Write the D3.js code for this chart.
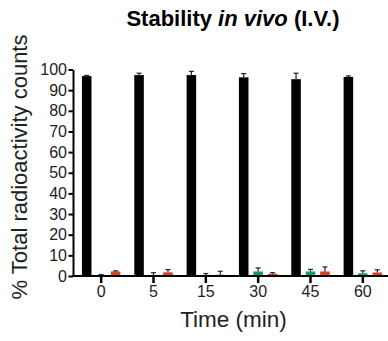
<!DOCTYPE html>
<html>
<head>
<meta charset="utf-8">
<script src="https://cdn.jsdelivr.net/npm/d3@7"></script>
<style>
  body { margin: 0; background: #fff; }
  text { font-family: "Liberation Sans", Arial, sans-serif; }
</style>
</head>
<body>
<svg width="388" height="341"></svg>
<script>
const times = ["0", "5", "15", "30", "45", "60"];
const series = ["intact", "green", "red"];
const colors = ["#000000", "#119b6c", "#d8431a"];
// means and SD
const intact = [96.8, 97.3, 97.3, 96.2, 95.3, 96.4];
const intactErr = [0.3, 0.9, 1.8, 1.8, 2.9, 0.5];
const green = [0.5, 0.5, 0.5, 2.2, 2.2, 1.3];
const greenErr = [0.2, 1.1, 0.7, 1.7, 1.0, 1.2];
const red = [2.2, 1.8, 0.6, 1.1, 2.2, 1.7];
const redErr = [0.3, 1.3, 1.7, 0.5, 2.2, 1.3];
const yTicks = d3.range(0, 101, 10);

const svg = d3.select("svg");
const values = [intact, green, red];
const errors = [intactErr, greenErr, redErr];

const x = d3.scaleBand().domain(times).range([75, 389]).padding(0);
const xInner = d3.scaleBand().domain(series).range([0, x.bandwidth()])
  .paddingInner(0.34).paddingOuter(0.48);
const y = d3.scaleLinear().domain([0, 100]).range([276, 69.5]);

const rows = [];
times.forEach((t, i) => series.forEach((s, j) => {
  rows.push({ t, s, v: values[j][i], e: errors[j][i], c: colors[j] });
}));

// bars
svg.append("g").selectAll("rect")
  .data(rows)
  .enter().append("rect")
    .attr("x", d => x(d.t) + xInner(d.s))
    .attr("width", xInner.bandwidth())
    .attr("y", d => y(d.v))
    .attr("height", d => y(0) - y(d.v))
    .attr("fill", d => d.c);

// error bars (upper only)
const eb = svg.append("g").attr("stroke", "#222").attr("stroke-width", 1.2);
rows.forEach(d => {
  const cx = x(d.t) + xInner(d.s) + xInner.bandwidth() / 2;
  eb.append("line").attr("x1", cx).attr("x2", cx)
    .attr("y1", y(d.v)).attr("y2", y(d.v + d.e));
  eb.append("line").attr("x1", cx - 2.5).attr("x2", cx + 2.5)
    .attr("y1", y(d.v + d.e)).attr("y2", y(d.v + d.e));
});

// y axis
const yAxis = svg.append("g")
  .attr("transform", "translate(73,0)")
  .call(d3.axisLeft(y).tickValues(yTicks).tickSize(4.5).tickPadding(1.5).tickSizeOuter(0));
yAxis.select(".domain").attr("stroke-width", 2);
yAxis.selectAll(".tick line").attr("stroke-width", 2);
yAxis.selectAll("text").attr("font-size", 16).attr("fill", "#222")
  .style("font-family", "'Liberation Sans', Arial, sans-serif");

// x axis
const xAxis = svg.append("g")
  .attr("transform", "translate(0,276)")
  .call(d3.axisBottom(x).tickSize(7).tickPadding(3).tickSizeOuter(0));
xAxis.select(".domain").attr("d", "M72,0H388").attr("stroke-width", 2);
xAxis.selectAll(".tick line").attr("stroke-width", 2.5);
xAxis.selectAll("text").attr("font-size", 16).attr("fill", "#222")
  .style("font-family", "'Liberation Sans', Arial, sans-serif");

// title
const title = svg.append("text")
  .attr("x", 233).attr("y", 26)
  .attr("text-anchor", "middle")
  .attr("font-size", 22).attr("font-weight", "bold");
title.append("tspan").text("Stability ");
title.append("tspan").attr("font-style", "italic").text("in vivo");
title.append("tspan").text(" (I.V.)");

// axis titles
svg.append("text")
  .attr("transform", "translate(27,167) rotate(-90)")
  .attr("text-anchor", "middle")
  .attr("font-size", 22)
  .attr("fill", "#222")
  .text("% Total radioactivity counts");

svg.append("text")
  .attr("x", 233.5).attr("y", 327)
  .attr("text-anchor", "middle")
  .attr("font-size", 22.5)
  .attr("fill", "#222")
  .text("Time (min)");
</script>
</body>
</html>
